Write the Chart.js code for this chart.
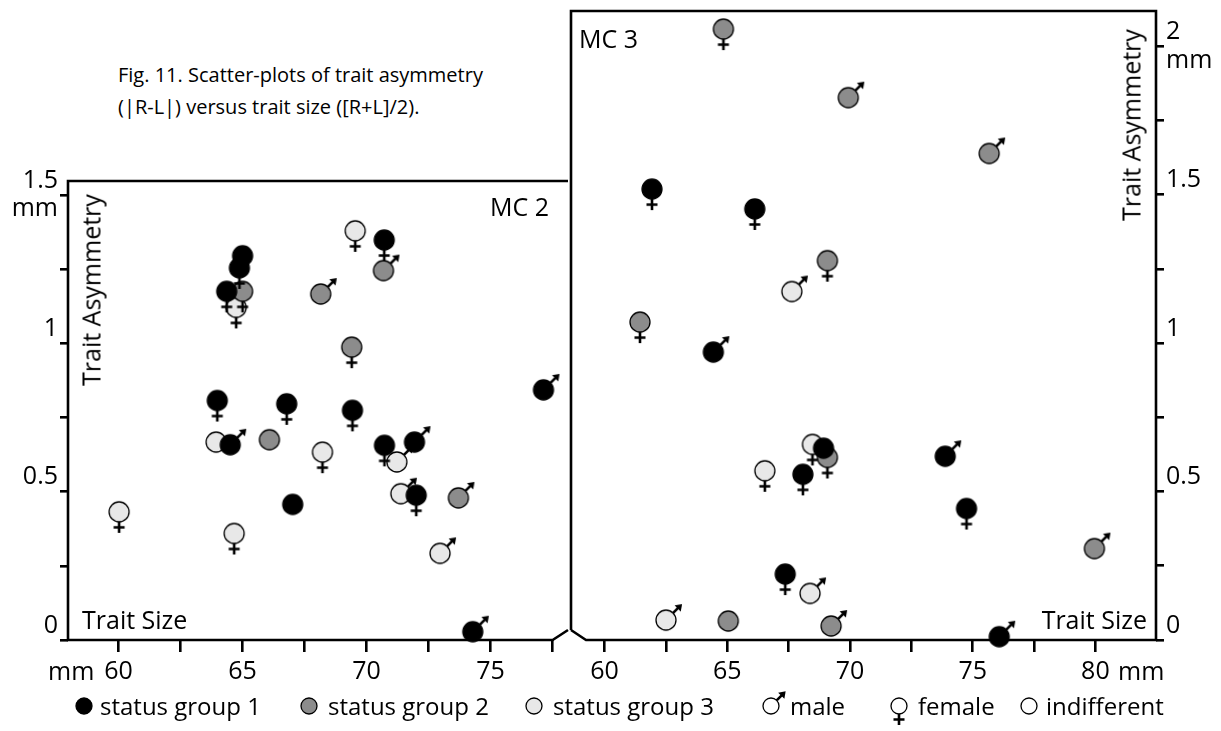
<!DOCTYPE html>
<html><head><meta charset="utf-8">
<script src="https://cdn.jsdelivr.net/npm/chart.js@4.4.1/dist/chart.umd.min.js"></script>
<style>
html,body{margin:0;padding:0;background:#fff;}
body{width:1221px;height:731px;position:relative;overflow:hidden;font-family:"Open Sans",sans-serif;color:#000;}
.abs{position:absolute;white-space:nowrap;line-height:1;}
.t25{font-size:25px;line-height:25px;}
canvas{position:absolute;}
.leg{position:absolute;top:693px;font-size:24px;line-height:26px;white-space:nowrap;}
</style></head><body>
<div class="abs" style="left:118px;top:59px;font-size:20px;line-height:32px;">Fig. 11. Scatter-plots of trait asymmetry<br>(|R-L|) versus trait size ([R+L]/2).</div>
<canvas id="c1" width="590" height="520" style="left:0;top:170px;"></canvas>
<canvas id="c2" width="661" height="690" style="left:560px;top:0;"></canvas>
<div class="abs t25" style="left:91px;top:290px;transform:translate(-50%,-50%) rotate(-90deg);">Trait Asymmetry</div>
<div class="abs t25" style="left:1131px;top:125px;transform:translate(-50%,-50%) rotate(-90deg);">Trait Asymmetry</div>
<div class="abs t25" style="left:82px;top:607px;">Trait Size</div>
<div class="abs t25" style="right:74px;top:607px;">Trait Size</div>
<div class="abs t25" style="left:490px;top:194px;">MC 2</div>
<div class="abs t25" style="left:579px;top:26px;">MC 3</div>
<div class="abs t25" style="left:48px;top:658px;">mm</div>
<div class="abs t25" style="left:1118px;top:658px;">mm</div>
<div id="legend"></div>
<script>
// ---------- data ----------
const mc2Size  = [65.0, 64.87, 64.36, 65.0, 64.74, 63.98, 66.78, 69.54, 70.71, 70.68, 68.15, 69.40, 77.13, 69.43, 63.93, 64.50, 66.08, 60.02, 64.66, 67.02, 68.22, 70.72, 71.93, 71.22, 72.00, 71.38, 73.70, 72.96, 74.28];
const mc2Asym  = [1.295, 1.254, 1.175, 1.175, 1.121, 0.807, 0.796, 1.379, 1.348, 1.245, 1.166, 0.987, 0.843, 0.774, 0.667, 0.658, 0.675, 0.432, 0.359, 0.457, 0.633, 0.656, 0.667, 0.600, 0.488, 0.493, 0.479, 0.292, 0.028];
const mc2Group = [1, 1, 1, 2, 3, 1, 1, 3, 1, 2, 2, 2, 1, 1, 3, 1, 2, 3, 3, 1, 3, 1, 1, 3, 1, 3, 2, 3, 1];
const mc2Sex   = ['f','f','f','f','f','f','f','f','f','m','m','f','m','f','i','m','i','f','f','i','f','f','m','m','f','m','m','m','m'];

const mc3Size  = [64.84, 69.93, 61.93, 66.12, 69.08, 67.63, 61.44, 75.67, 64.43, 68.47, 68.92, 69.08, 66.53, 68.08, 67.36, 68.37, 62.50, 65.04, 69.23, 73.88, 74.75, 79.96, 76.08];
const mc3Asym  = [2.058, 1.827, 1.519, 1.452, 1.278, 1.174, 1.071, 1.639, 0.970, 0.659, 0.646, 0.615, 0.570, 0.558, 0.222, 0.157, 0.067, 0.064, 0.047, 0.619, 0.443, 0.308, 0.011];
const mc3Group = [2, 2, 1, 1, 2, 3, 2, 2, 1, 3, 1, 2, 3, 1, 1, 3, 3, 2, 2, 1, 1, 2, 1];
const mc3Sex   = ['f','m','f','f','f','m','f','m','m','f','i','f','f','f','f','m','m','i','m','m','f','m','m'];

const mc2SizeTicks = [60, 62.5, 65, 67.5, 70, 72.5, 75, 77.5];
const mc2SizeLabels = [60, 65, 70, 75];
const mc3SizeTicks = [60, 62.5, 65, 67.5, 70, 72.5, 75, 77.5, 80];
const mc3SizeLabels = [60, 65, 70, 75, 80];
const mc2AsymTicks = [0, 0.25, 0.5, 0.75, 1, 1.25, 1.5];
const mc2AsymLabels = [0, 0.5, 1, 1.5];
const mc3AsymTicks = [0, 0.25, 0.5, 0.75, 1, 1.25, 1.5, 1.75, 2];
const mc3AsymLabels = [0, 0.5, 1, 1.5, 2];
const groupNames = ['status group 1', 'status group 2', 'status group 3'];
const sexNames = ['male', 'female', 'indifferent'];

// ---------- styles ----------
const FONT = '"Open Sans", sans-serif';
const groupColors = {1: '#000000', 2: '#8c8c8c', 3: '#e8e8e8'};

function makeMarker(fill, sex, r, S) {
  const cv = document.createElement('canvas');
  cv.width = S; cv.height = S;
  const g = cv.getContext('2d');
  const c = S / 2;
  g.strokeStyle = '#000'; g.fillStyle = '#000'; g.lineWidth = 2.6;
  if (sex === 'f') {
    g.beginPath();
    g.moveTo(c, c + r - 1); g.lineTo(c, c + r + 11);
    g.moveTo(c - 5.5, c + r + 5.5); g.lineTo(c + 5.5, c + r + 5.5);
    g.stroke();
  } else if (sex === 'm') {
    const a = r * 0.707;
    const tx = c + a + 8.5, ty = c - a - 8.5;
    g.beginPath(); g.moveTo(c + a - 1, c - a + 1); g.lineTo(tx - 3, ty + 3); g.stroke();
    g.beginPath();
    g.moveTo(tx + 0.5, ty - 0.5);
    g.lineTo(tx - 7, ty + 0.8);
    g.lineTo(tx - 0.8, ty + 7);
    g.closePath(); g.fill();
  }
  g.beginPath(); g.arc(c, c, r, 0, Math.PI * 2);
  g.fillStyle = fill; g.fill();
  g.lineWidth = 1.3; g.strokeStyle = '#000'; g.stroke();
  return cv;
}
const markers = {};
[1, 2, 3].forEach(gi => {
  markers[gi] = {};
  ['m', 'f', 'i'].forEach(s => { markers[gi][s] = makeMarker(groupColors[gi], s, 10, 52); });
});

function buildDatasets(size, asym, group, sex) {
  return [1, 2, 3].map(gi => {
    const idx = size.map((_, i) => i).filter(i => group[i] === gi);
    const styles = idx.map(i => markers[gi][sex[i]]);
    return {
      label: groupNames[gi - 1],
      data: idx.map(i => ({x: size[i], y: asym[i]})),
      pointStyle: ctx => styles[ctx.dataIndex],
      pointRadius: 10,
      clip: false,
      showLine: false
    };
  });
}

function yLabel(v, labels, last) {
  if (!labels.includes(v)) return '';
  if (v === last) return [String(v), 'mm'];
  return [String(v), ''];
}

function makeScales(xTicks, xLabels, yTicks, yLabels, xMin, xMax, yMax, yPos, yWidth) {
  const lastY = yLabels[yLabels.length - 1];
  return {
    x: {
      type: 'linear', min: xMin, max: xMax,
      afterBuildTicks: s => { s.ticks = xTicks.map(v => ({value: v})); },
      afterFit: s => { s.height = 50; s.paddingLeft = 0; s.paddingRight = 0; s.paddingTop = 0; s.paddingBottom = 0; },
      ticks: {autoSkip: false, maxRotation: 0, color: '#000', padding: 5,
        font: {family: FONT, size: 25},
        callback: v => xLabels.includes(v) ? String(v) : ''},
      grid: {drawOnChartArea: false, drawTicks: true, tickLength: 12, color: '#000', lineWidth: 2.6},
      border: {display: false}
    },
    y: {
      type: 'linear', min: 0, max: yMax, position: yPos,
      afterBuildTicks: s => { s.ticks = yTicks.map(v => ({value: v})); },
      afterFit: s => { s.width = yWidth; s.paddingTop = 0; s.paddingBottom = 0; s.paddingLeft = 0; s.paddingRight = 0; },
      ticks: {autoSkip: false, color: '#000', padding: 2,
        font: {family: FONT, size: 25, lineHeight: 1.15},
        callback: v => yLabel(v, yLabels, lastY)},
      grid: {drawOnChartArea: false, drawTicks: true, tickLength: 8, color: '#000', lineWidth: 2.6},
      border: {display: false}
    }
  };
}

const leftFrame = {
  id: 'leftFrame',
  beforeDatasetsDraw(chart) {
    const {ctx, chartArea: {left, top, right, bottom}} = chart;
    const xEnd = chart.scales.x.getPixelForValue(mc2SizeTicks[mc2SizeTicks.length - 1]);
    ctx.save();
    ctx.strokeStyle = '#000'; ctx.lineWidth = 2.6; ctx.lineJoin = 'miter';
    ctx.beginPath();
    ctx.moveTo(right, top); ctx.lineTo(left, top); ctx.lineTo(left, bottom);
    ctx.lineTo(xEnd, bottom); ctx.lineTo(right, bottom - 10);
    ctx.stroke();
    ctx.restore();
  }
};
const rightFrame = {
  id: 'rightFrame',
  beforeDatasetsDraw(chart) {
    const {ctx, chartArea: {left, top, right, bottom}} = chart;
    ctx.save();
    ctx.strokeStyle = '#000'; ctx.lineWidth = 2.6; ctx.lineJoin = 'miter';
    ctx.beginPath();
    ctx.moveTo(left, bottom - 10); ctx.lineTo(left + 15, bottom); ctx.lineTo(right, bottom);
    ctx.lineTo(right, top); ctx.lineTo(left, top); ctx.lineTo(left, bottom - 10);
    ctx.stroke();
    ctx.restore();
  }
};

const common = {
  responsive: false, animation: false, devicePixelRatio: 1, events: [],
  plugins: {legend: {display: false}, tooltip: {enabled: false}}
};

new Chart(document.getElementById('c1'), {
  type: 'scatter',
  data: {datasets: buildDatasets(mc2Size, mc2Asym, mc2Group, mc2Sex)},
  options: Object.assign({}, common, {
    layout: {padding: {left: 0, top: 10, right: 22, bottom: 0}},
    scales: makeScales(mc2SizeTicks, mc2SizeLabels, mc2AsymTicks, mc2AsymLabels, 57.96, 78.12, 1.547, 'left', 68)
  }),
  plugins: [leftFrame]
});

new Chart(document.getElementById('c2'), {
  type: 'scatter',
  data: {datasets: buildDatasets(mc3Size, mc3Asym, mc3Group, mc3Sex)},
  options: Object.assign({}, common, {
    layout: {padding: {left: 8, top: 10, right: 0, bottom: 0}},
    scales: makeScales(mc3SizeTicks, mc3SizeLabels, mc3AsymTicks, mc3AsymLabels, 58.63, 82.47, 2.119, 'right', 65)
  }),
  plugins: [rightFrame]
});

// ---------- legend ----------
const legendItems = [
  {label: groupNames[0], fill: groupColors[1], sex: 'i'},
  {label: groupNames[1], fill: groupColors[2], sex: 'i'},
  {label: groupNames[2], fill: groupColors[3], sex: 'i'},
  {label: sexNames[0], fill: '#ffffff', sex: 'm'},
  {label: sexNames[1], fill: '#ffffff', sex: 'f'},
  {label: sexNames[2], fill: '#ffffff', sex: 'i'}
];
const legendIconX = [84, 309, 534, 771, 899, 1029];
const legendTextX = [100, 328, 553, 790, 918, 1046];
const legend = document.getElementById('legend');
legendItems.forEach((it, k) => {
  const icon = makeMarker(it.fill, it.sex, 8, 44);
  icon.style.left = (legendIconX[k] - 22) + 'px';
  icon.style.top = (706 - 22) + 'px';
  legend.appendChild(icon);
  const t = document.createElement('div');
  t.className = 'leg';
  t.style.left = legendTextX[k] + 'px';
  t.textContent = it.label;
  legend.appendChild(t);
});
</script>
</body></html>
